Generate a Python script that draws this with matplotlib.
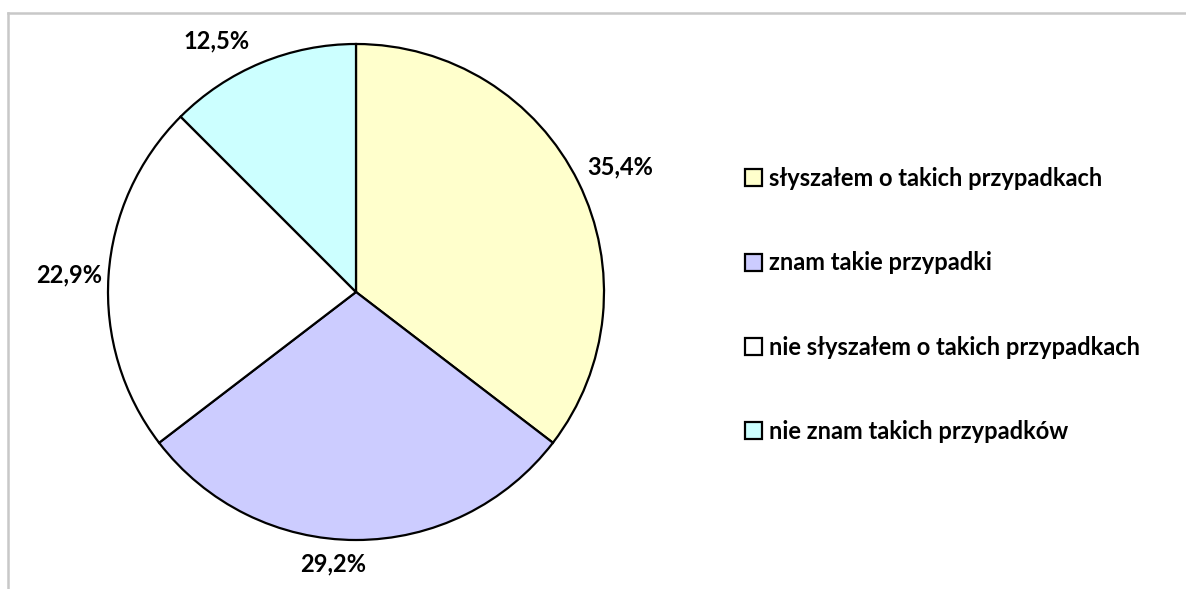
import numpy as np
import matplotlib
matplotlib.use("Agg")
import matplotlib.pyplot as plt
from matplotlib.lines import Line2D

plt.rcParams['font.family'] = ['Lato', 'DejaVu Sans']
plt.rcParams['font.weight'] = 'bold'

# dane
categories = ["słyszałem o takich przypadkach", "znam takie przypadki",
              "nie słyszałem o takich przypadkach", "nie znam takich przypadków"]
values = [35.4, 29.2, 22.9, 12.5]
colors = ["#FFFFCC", "#CCCCFF", "#FFFFFF", "#CCFFFF"]
# polozenie etykiet: odleglosc od srodka, przesuniecie kata
label_dist = [1.18, 1.10, 1.16, 1.157]
label_shift = [-1.0, -4.9, 0.4, 6.5]

W, H = 1186, 589
fig = plt.figure(figsize=(W / 100, H / 100), dpi=100)

# pie center (356, 292) px, radius 248 px
cx, cy, r = 356, H - 292, 248
ax = fig.add_axes([(cx - r) / W, (cy - r) / H, 2 * r / W, 2 * r / H])
wedges, _ = ax.pie(values, colors=colors, startangle=90, counterclock=False,
                   radius=1, wedgeprops=dict(edgecolor="black", linewidth=1.6))
ax.set_xlim(-1, 1)
ax.set_ylim(-1, 1)
ax.set_aspect("equal")
ax.axis("off")

for w, v, d, s in zip(wedges, values, label_dist, label_shift):
    ang = np.deg2rad((w.theta1 + w.theta2) / 2 + s)
    ax.text(d * np.cos(ang), d * np.sin(ang), f"{v:.1f}%".replace(".", ","),
            ha="center", va="center", fontsize=17, fontweight="bold",
            clip_on=False)

leg = fig.legend(wedges, categories, loc="upper left",
                 bbox_to_anchor=(745 / W, 1 - 167 / H), frameon=False,
                 borderpad=0, borderaxespad=0,
                 labelspacing=2.6, handlelength=0.72,
                 handleheight=0.72, handletextpad=0.3,
                 prop=dict(weight="bold", size=17))
for h in leg.legend_handles:
    h.set_linewidth(1.6)

# ramka (szara)
fig.add_artist(Line2D([8 / W, 1], [1 - 13 / H, 1 - 13 / H], color="#C8C8C8", lw=1.8,
                      transform=fig.transFigure))
fig.add_artist(Line2D([8 / W, 8 / W], [0, 1 - 13 / H], color="#C8C8C8", lw=1.8,
                      transform=fig.transFigure))

fig.savefig("out.png", dpi=100, facecolor="white")
